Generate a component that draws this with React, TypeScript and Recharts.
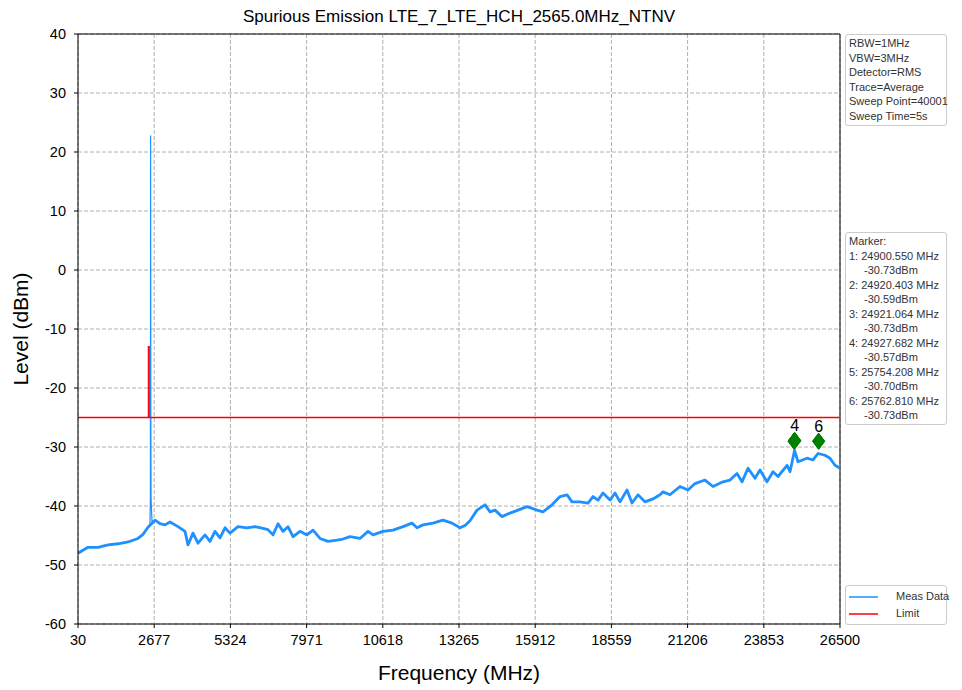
import { ComposedChart, Line, Scatter, XAxis, YAxis, CartesianGrid, ReferenceLine } from "recharts";

const measFreq = [
  30, 377, 725, 1072, 1419, 1767, 2114, 2288, 2462, 2705, 2879, 3052, 3226, 3504, 3747, 3851, 4025, 4199,
  4442, 4615, 4789, 4963, 5137, 5310, 5588, 5901, 6179, 6457, 6630, 6804, 6978, 7152, 7325, 7499, 7742,
  7985, 8194, 8437, 8715, 9027, 9236, 9479, 9826, 10104, 10278, 10625, 10973, 11320, 11633, 11807, 12015,
  12362, 12709, 13022, 13300, 13474, 13647, 13891, 14169, 14343, 14516, 14760, 15037, 15315, 15628, 15975,
  16184, 16496, 16774, 17017, 17191, 17468, 17746, 17920, 18094, 18267, 18511, 18684, 18858, 19101, 19275,
  19483, 19726, 20004, 20247, 20351, 20594, 20942, 21220, 21463, 21810, 22088, 22436, 22679, 22922, 23096,
  23304, 23548, 23721, 23964, 24173, 24347, 24660, 24764, 24920, 25042, 25354, 25562, 25736, 25979, 26153,
  26326, 26500,
];
const measLevel = [
  -48.0, -47.0, -47.0, -46.6, -46.4, -46.1, -45.5, -44.8, -43.6, -42.4, -43.0, -43.2, -42.7, -43.5, -44.3, -46.6, -44.6, -46.3,
  -44.9, -46.0, -44.3, -45.4, -43.7, -44.6, -43.5, -43.7, -43.5, -43.8, -44.0, -44.9, -43.0, -44.3, -43.5, -45.2, -44.3,
  -44.9, -44.1, -45.5, -46.0, -45.8, -45.6, -45.2, -45.5, -44.3, -44.9, -44.3, -44.1, -43.5, -42.9, -43.7, -43.2,
  -42.9, -42.4, -42.9, -43.7, -43.3, -42.5, -40.7, -39.8, -41.0, -40.7, -41.8, -41.2, -40.7, -40.1, -40.7,
  -41.0, -39.8, -38.4, -38.1, -39.3, -39.3, -39.5, -38.4, -39.0, -37.8, -39.0, -37.8, -39.3, -37.3, -39.5,
  -38.1, -39.3, -38.8, -38.1, -37.6, -38.1, -36.7, -37.3, -36.2, -35.6, -36.7, -35.9, -35.6, -34.5, -35.9,
  -33.6, -35.3, -33.9, -35.9, -34.2, -35.0, -33.1, -34.2, -30.6, -32.5, -31.9, -32.2, -31.1, -31.4, -31.9,
  -33.1, -33.6,
];

// carrier spike, drawn thin
const spikeFreq = [2462, 2530, 2545, 2552, 2560, 2568, 2600, 2705];
const spikeLevel = [-43.6, -43.0, -38.5, 22.8, -25.0, -38.6, -42.6, -42.4];

const limitFreq = [30, 2480, 2480, 2500, 2500, 26500];
const limitLevel = [-25, -25, -13, -13, -25, -25];

const markerFreq = [24900.55, 24920.403, 24921.064, 24927.682, 25754.208, 25762.81];
const markerLevel = [-30.73, -30.59, -30.73, -30.57, -30.7, -30.73];

const xTicks = [30, 2677, 5324, 7971, 10618, 13265, 15912, 18559, 21206, 23853, 26500];
const yTicks = [-60, -50, -40, -30, -20, -10, 0, 10, 20, 30, 40];

const settingsLines = ["RBW=1MHz", "VBW=3MHz", "Detector=RMS", "Trace=Average", "Sweep Point=40001", "Sweep Time=5s"];

const measData = measFreq.map((f, i) => ({ f, v: measLevel[i] }));
const spikeData = spikeFreq.map((f, i) => ({ f, v: spikeLevel[i] }));
const limitData = limitFreq.map((f, i) => ({ f, v: limitLevel[i] }));
// the label of a marker hidden under the next one is not drawn (labels overlap on screen)
const markerData = markerFreq.map((f, i) => ({
  f,
  v: markerLevel[i],
  n: i + 1,
  top: i === markerFreq.length - 1 || markerFreq[i + 1] - f > 100,
}));

const font = "'Liberation Sans', Arial, sans-serif";

function MarkerShape(props: any) {
  const { cx, cy, payload } = props;
  const c = cy - 10;
  return (
    <g>
      <polygon points={`${cx},${c - 8} ${cx + 6},${c} ${cx},${c + 8} ${cx - 6},${c}`} fill="#008000" stroke="#008000" />
      {payload.top && (
        <text x={cx} y={c - 9} textAnchor="middle" fontSize={16} fontFamily={font} fill="#000">
          {payload.n}
        </text>
      )}
    </g>
  );
}

const boxStyle: React.CSSProperties = {
  position: "absolute",
  left: 845,
  width: 102,
  border: "1px solid #cccccc",
  borderRadius: 3,
  background: "#fff",
  fontFamily: font,
  fontSize: 11,
  lineHeight: "14.5px",
  color: "#333",
  padding: "1px 0 2px 3px",
  boxSizing: "border-box",
  whiteSpace: "nowrap",
};

function LegendRow(props: { color: string; label: string }) {
  return (
    <div style={{ display: "flex", alignItems: "center", height: 17 }}>
      <svg width={32} height={10} style={{ flex: "none", marginRight: 16 }}>
        <line x1={1} y1={5} x2={30} y2={5} stroke={props.color} strokeWidth={1.5} />
      </svg>
      <span>{props.label}</span>
    </div>
  );
}

function App() {
  return (
    <div style={{ position: "absolute", left: 0, top: 0, width: 962, height: 690, background: "#fff", fontFamily: font }}>
      <ComposedChart width={962} height={690} margin={{ top: 34, right: 122, left: 28, bottom: 36 }}>
        <CartesianGrid strokeDasharray="4 2" stroke="#b0b0b0" />
        <XAxis
          dataKey="f"
          type="number"
          domain={[30, 26500]}
          ticks={xTicks}
          interval={0}
          height={30}
          stroke="#000"
          tickSize={4}
          tickMargin={7}
          tick={{ fontSize: 14.5, fill: "#000", fontFamily: font }}
          allowDataOverflow
        />
        <YAxis
          type="number"
          domain={[-60, 40]}
          ticks={yTicks}
          interval={0}
          width={50}
          stroke="#000"
          tickSize={4}
          tickMargin={8}
          tick={{ fontSize: 14.5, fill: "#000", fontFamily: font }}
          allowDataOverflow
        />
        <ReferenceLine y={40} stroke="#000" />
        <ReferenceLine x={26500} stroke="#000" />
        <Line data={measData} dataKey="v" type="linear" stroke="#1e90ff" strokeWidth={2.8} strokeLinejoin="round" dot={false} isAnimationActive={false} />
        <Line data={spikeData} dataKey="v" type="linear" stroke="#1e90ff" strokeWidth={1.2} dot={false} isAnimationActive={false} />
        <Line data={limitData} dataKey="v" type="linear" stroke="#ff0000" strokeWidth={1.5} dot={false} isAnimationActive={false} />
        <Scatter data={markerData} dataKey="v" shape={MarkerShape} isAnimationActive={false} />
      </ComposedChart>

      <div style={{ position: "absolute", left: 78, width: 762, top: 7, textAlign: "center", fontSize: 17, color: "#000" }}>
        Spurious Emission LTE_7_LTE_HCH_2565.0MHz_NTNV
      </div>
      <div style={{ position: "absolute", left: 78, width: 762, top: 661, textAlign: "center", fontSize: 21, color: "#000" }}>
        Frequency (MHz)
      </div>
      <div
        style={{
          position: "absolute",
          left: 21,
          top: 329,
          transform: "translate(-50%, -50%) rotate(-90deg)",
          fontSize: 21,
          color: "#000",
          whiteSpace: "nowrap",
        }}
      >
        Level (dBm)
      </div>

      <div style={{ ...boxStyle, top: 34, height: 92 }}>
        {settingsLines.map((s) => (
          <div key={s}>{s}</div>
        ))}
      </div>

      <div style={{ ...boxStyle, top: 232, height: 193 }}>
        <div>Marker:</div>
        {markerData.map((m) => (
          <div key={m.n}>
            <div>{`${m.n}: ${m.f.toFixed(3)} MHz`}</div>
            <div style={{ paddingLeft: 15 }}>{`${m.v.toFixed(2)}dBm`}</div>
          </div>
        ))}
      </div>

      <div style={{ ...boxStyle, top: 585, height: 40, padding: "2px 0 0 2px" }}>
        <LegendRow color="#1e90ff" label="Meas Data" />
        <LegendRow color="#ff0000" label="Limit" />
      </div>
    </div>
  );
}

export default App;
